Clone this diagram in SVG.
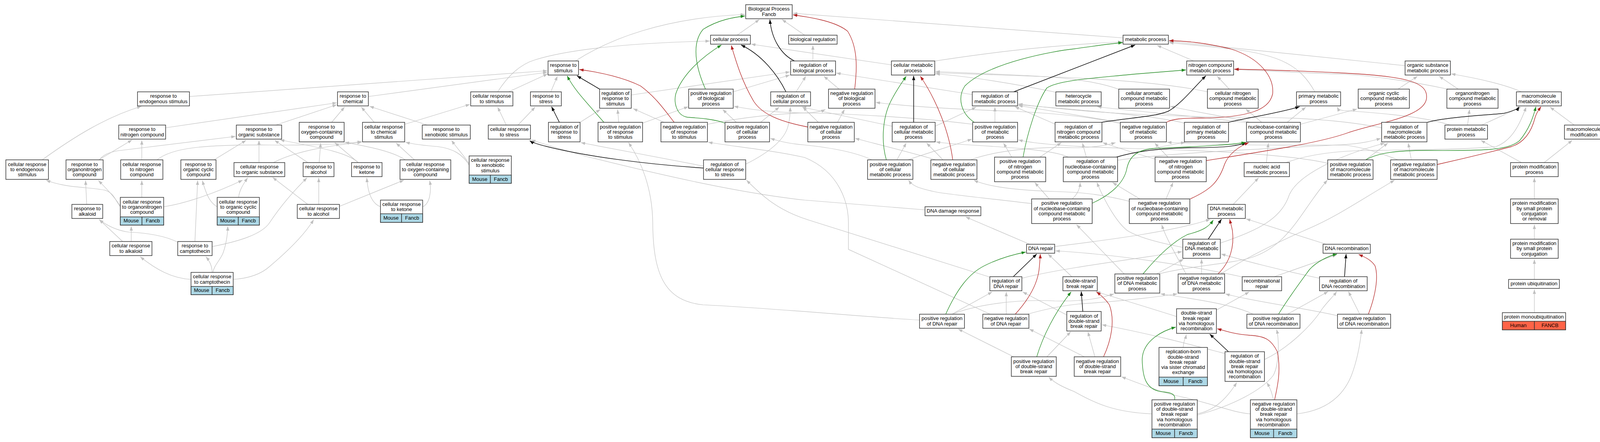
<svg xmlns="http://www.w3.org/2000/svg" width="4120" height="1131" viewBox="0 0 4120 1131">
<style>
.box{fill:#fff;stroke:#333;stroke-width:1.5}
.mo{fill:#add8e6;stroke:#333;stroke-width:1.5}
.hu{fill:#ff6347;stroke:#333;stroke-width:1.5}
text{font-family:"Liberation Sans",Arial,sans-serif;font-size:13px;text-anchor:middle;fill:#000}
.e path{fill:none;stroke:#c0c0c0;stroke-width:1.2;marker-end:url(#ag)}
.eb path{fill:none;stroke:#000;stroke-width:1.5;marker-end:url(#ab)}
.egr path{fill:none;stroke:#228b22;stroke-width:1.3;marker-end:url(#agr)}
.er path{fill:none;stroke:#b22222;stroke-width:1.3;marker-end:url(#ar)}
</style>
<defs>
<marker id="ag" viewBox="0 0 11 8" refX="11" refY="4" markerWidth="11" markerHeight="8" orient="auto" markerUnits="userSpaceOnUse"><path d="M0,0 L11,4 L0,8 z" fill="#c0c0c0"/></marker>
<marker id="ab" viewBox="0 0 11 8" refX="11" refY="4" markerWidth="11" markerHeight="8" orient="auto" markerUnits="userSpaceOnUse"><path d="M0,0 L11,4 L0,8 z" fill="#000"/></marker>
<marker id="agr" viewBox="0 0 11 8" refX="11" refY="4" markerWidth="11" markerHeight="8" orient="auto" markerUnits="userSpaceOnUse"><path d="M0,0 L11,4 L0,8 z" fill="#228b22"/></marker>
<marker id="ar" viewBox="0 0 11 8" refX="11" refY="4" markerWidth="11" markerHeight="8" orient="auto" markerUnits="userSpaceOnUse"><path d="M0,0 L11,4 L0,8 z" fill="#b22222"/></marker>
</defs>
<rect x="0" y="0" width="4120" height="1131" fill="#fff"/>
<g id="connectors">
<g class="e">
<path d="M1887,90 L1944,50"/>
<path d="M2060,90 L2002,50"/>
<path d="M2875,97 L2030,34"/>
<path d="M1473,156 C1560,100 1700,45 1907,37"/>
<path d="M1274,235 C1300,195 1330,165 1370,153 C1450,128 1600,110 1817,105"/>
<path d="M485,247 L1401,181"/>
<path d="M943,247 L1401,185"/>
<path d="M1302,235 L1402,189"/>
<path d="M1410,235 L1427,195"/>
<path d="M424,327 L862,263"/>
<path d="M706,320 L862,268"/>
<path d="M849,313 L882,274"/>
<path d="M958,313 L925,274"/>
<path d="M1094,320 L946,272"/>
<path d="M1036,318 L1203,267"/>
<path d="M1296,320 L1274,274"/>
<path d="M1326,320 L1370,274"/>
<path d="M108,409 C190,350 270,300 362,272"/>
<path d="M253,409 L338,358"/>
<path d="M254,409 C265,395 280,390 300,386 L603,349"/>
<path d="M363,409 L363,359"/>
<path d="M402,409 C440,378 520,370 690,371 C780,372 870,370 926,362"/>
<path d="M548,409 L630,359"/>
<path d="M663,416 L663,359"/>
<path d="M700,416 C760,385 850,372 926,364"/>
<path d="M817,416 L821,366"/>
<path d="M788,416 L703,359"/>
<path d="M917,416 L857,365"/>
<path d="M917,416 C890,390 820,378 717,358"/>
<path d="M1038,409 C1000,385 940,375 883,364"/>
<path d="M1061,409 L1014,366"/>
<path d="M1202,421 C1190,400 1170,380 1156,359"/>
<path d="M1201,423 C1185,395 1160,380 1120,375 C1080,372 1055,368 1038,364"/>
<path d="M308,527 C300,515 290,500 252,462"/>
<path d="M363,505 L363,462"/>
<path d="M419,529 C480,520 560,490 621,461"/>
<path d="M308,529 C296,515 293,495 270,487 C230,478 170,482 118,461"/>
<path d="M556,529 C540,520 530,505 518,462"/>
<path d="M611,505 C612,490 620,475 634,455"/>
<path d="M222,523 L219,462"/>
<path d="M816,523 L816,455"/>
<path d="M869,528 L1034,461"/>
<path d="M788,523 L698,454"/>
<path d="M974,529 C955,522 942,500 939,455"/>
<path d="M1082,529 C1100,522 1105,490 1100,462"/>
<path d="M314,618 L254,562"/>
<path d="M336,618 L336,579"/>
<path d="M454,619 C420,603 380,596 330,594 C300,590 275,578 254,562"/>
<path d="M499,618 L506,462"/>
<path d="M543,631 C610,618 670,600 690,570 C710,540 740,500 786,455"/>
<path d="M489,715 C440,712 400,690 359,657"/>
<path d="M543,697 C543,680 535,666 527,657"/>
<path d="M545,697 C548,680 560,670 570,650 C578,630 583,600 583,579"/>
<path d="M597,715 C640,712 670,700 690,682 C740,640 780,600 803,562"/>
<path d="M1616,243 L2022,184"/>
<path d="M1877,235 L2022,192"/>
<path d="M2038,235 L2063,195"/>
<path d="M2148,228 L2109,195"/>
<path d="M2081,156 L2081,116"/>
<path d="M2282,166 L1923,113"/>
<path d="M2394,156 C2500,140 2650,118 2873,107"/>
<path d="M2489,242 L2141,187"/>
<path d="M2284,323 L2053,274"/>
<path d="M2394,323 L2499,274"/>
<path d="M2547,313 L2547,274"/>
<path d="M2702,318 L2598,273"/>
<path d="M2868,313 L2607,270"/>
<path d="M3032,315 C2950,295 2800,285 2607,268"/>
<path d="M3537,327 C3400,300 3250,300 3150,300 C2900,295 2750,285 2607,266"/>
<path d="M2490,318 C2350,300 2150,290 2060,289 C1980,288 1920,280 1879,272"/>
<path d="M2868,316 C2800,300 2700,290 2600,285 C2450,280 2320,272 2242,262"/>
<path d="M1885,313 L1850,280"/>
<path d="M1645,315 L1762,273"/>
<path d="M2144,313 L2162,280"/>
<path d="M1811,318 C1900,300 2000,290 2060,289 C2090,288 2105,284 2113,280"/>
<path d="M1700,313 L1621,278"/>
<path d="M1584,313 L1581,280"/>
<path d="M1485,313 L1537,280"/>
<path d="M1801,425 C1700,405 1590,385 1487,365"/>
<path d="M1909,420 C1960,395 2010,360 2018,320 C2023,300 2023,285 2023,274"/>
<path d="M1947,313 L1995,274"/>
<path d="M2095,313 L2055,274"/>
<path d="M2296,409 L2320,366"/>
<path d="M2232,409 C2180,385 2100,375 2060,371 C2020,368 1990,360 1972,354"/>
<path d="M2324,409 C2380,390 2440,372 2488,356"/>
<path d="M2414,409 L2372,366"/>
<path d="M2396,409 C2330,390 2250,370 2189,354"/>
<path d="M2484,409 C2550,385 2650,375 2750,378 C2800,378 2830,372 2856,365"/>
<path d="M2590,402 L2569,366"/>
<path d="M2662,402 L2717,365"/>
<path d="M2957,407 C2900,390 2860,378 2823,365"/>
<path d="M2990,402 L2956,366"/>
<path d="M2781,402 L2771,366"/>
<path d="M2735,402 C2700,385 2600,378 2500,372 C2450,369 2420,367 2396,363"/>
<path d="M2855,402 C2920,385 2990,372 3034,364"/>
<path d="M2861,410 C3000,390 3300,378 3440,370 C3490,367 3515,360 3535,354"/>
<path d="M3496,409 L3553,366"/>
<path d="M3613,409 L3605,366"/>
<path d="M3400,418 C3300,395 3100,385 2900,380 C2750,376 2650,368 2607,358"/>
<path d="M3579,409 C3530,390 3480,375 3440,371 C3300,372 3100,372 2988,364"/>
<path d="M3793,320 L3894,274"/>
<path d="M3757,320 L3762,280"/>
<path d="M3713,320 C3650,300 3550,290 3440,283 C3430,282 3425,278 3423,274"/>
<path d="M4030,320 L3968,274"/>
<path d="M3895,416 L3791,359"/>
<path d="M3953,416 L4025,359"/>
<path d="M3928,509 L3928,455"/>
<path d="M3928,612 L3928,575"/>
<path d="M3928,715 L3928,664"/>
<path d="M3928,800 L3928,741"/>
<path d="M3292,416 C3350,395 3420,386 3500,385 C3650,383 3760,382 3830,375 C3870,360 3890,320 3907,274"/>
<path d="M3242,416 L3247,366"/>
<path d="M3192,314 C3050,295 2900,285 2809,273"/>
<path d="M3200,313 C3150,300 3050,285 2996,272"/>
<path d="M3230,313 L3189,279"/>
<path d="M3295,313 L3343,274"/>
<path d="M3329,318 L3474,279"/>
<path d="M2866,229 C2820,212 2750,198 2600,192 C2500,188 2430,185 2395,183"/>
<path d="M3091,235 C3000,215 2850,203 2700,197 C2550,192 2450,188 2395,186"/>
<path d="M2703,236 C2600,215 2480,195 2395,189"/>
<path d="M3147,228 L3116,195"/>
<path d="M3706,228 C3600,205 3500,193 3440,190 C3300,185 3220,180 3160,178"/>
<path d="M3579,228 L3629,195"/>
<path d="M3733,228 L3684,195"/>
<path d="M3895,235 C3850,215 3780,200 3715,189"/>
<path d="M3056,156 L2962,116"/>
<path d="M3366,235 C3330,170 3280,140 3150,125 C3080,118 3020,112 2993,109"/>
<path d="M3597,168 L2993,106"/>
<path d="M2368,537 C2250,528 2150,520 2060,512 C1900,495 1700,450 1500,400 C1430,380 1390,368 1360,358"/>
<path d="M2636,625 L2472,555"/>
<path d="M2700,631 C2800,618 3000,595 3098,561"/>
<path d="M3395,625 L3190,560"/>
<path d="M3157,523 L3222,455"/>
<path d="M2616,712 C2700,690 2850,670 3026,644"/>
<path d="M2534,709 L2070,563 C1990,538 1950,500 1911,461"/>
<path d="M2437,804 L2540,747"/>
<path d="M2576,804 L2576,747"/>
<path d="M2731,806 L2618,747"/>
<path d="M2354,819 C2200,810 2000,790 1800,780 C1700,770 1672,700 1671,570 C1670,480 1640,410 1609,365"/>
<path d="M2535,804 L2172,638 L2172,570 C2172,520 2150,440 2060,403 C1980,385 1880,375 1813,364"/>
<path d="M2437,804 C2500,780 2600,765 2700,770 C2780,772 2820,762 2852,752"/>
<path d="M2630,804 C2680,790 2720,782 2760,778 C2880,770 2960,760 3014,752"/>
<path d="M2744,708 L2683,650"/>
<path d="M3182,709 C3050,680 2850,650 2702,642"/>
<path d="M3262,708 L3422,652"/>
<path d="M3012,810 C2950,790 2850,760 2806,746"/>
<path d="M3113,794 L3198,747"/>
<path d="M3028,633 C2960,620 2910,605 2886,590 C2860,570 2830,520 2808,467"/>
<path d="M3124,622 C3220,590 3280,560 3300,500 C3320,450 3420,400 3545,366"/>
<path d="M2878,701 L2756,575"/>
<path d="M2961,701 L3030,663"/>
<path d="M2966,701 C3050,680 3150,675 3200,660 C3300,630 3330,540 3398,461"/>
<path d="M3036,701 C3010,650 2985,610 2974,575"/>
<path d="M3076,701 L3076,663"/>
<path d="M3125,701 C3190,660 3270,620 3350,585 C3420,555 3470,520 3570,461"/>
<path d="M3378,712 C3250,685 3180,665 3126,650"/>
<path d="M3296,804 L3400,746"/>
<path d="M3208,804 C3160,780 3060,765 2971,752"/>
<path d="M3481,804 L3452,746"/>
<path d="M3424,808 C3350,790 3200,770 3137,752"/>
<path d="M2680,913 L2741,849"/>
<path d="M2595,913 L2453,842"/>
<path d="M2803,913 L2785,849"/>
<path d="M2776,913 L2635,842"/>
<path d="M3137,905 C3060,885 2950,855 2821,831"/>
<path d="M3237,920 C3300,890 3360,830 3385,790 C3400,770 3412,760 3422,746"/>
<path d="M3029,889 C3030,870 3035,865 3037,856"/>
<path d="M3065,1059 C3110,1050 3140,1020 3166,979"/>
<path d="M2949,1059 C2850,1055 2800,1030 2750,1002 C2720,990 2700,980 2685,965"/>
<path d="M3065,1062 C3150,1040 3230,1000 3260,960 C3275,930 3275,870 3268,843"/>
<path d="M3260,1023 C3255,1000 3250,990 3243,979"/>
<path d="M3201,1059 C3150,1055 3100,1030 3000,1010 C2950,995 2900,975 2871,964"/>
<path d="M3320,1059 C3400,1050 3440,1010 3460,960 C3475,920 3482,880 3486,843"/>
<path d="M2641,521 C2550,510 2450,500 2400,492 C2350,482 2335,475 2326,461"/>
<path d="M2686,509 L2649,467"/>
<path d="M2745,509 C2760,495 2765,480 2765,467"/>
<path d="M2891,515 C2830,500 2780,492 2700,490 C2600,487 2530,478 2493,461"/>
<path d="M2918,509 L2848,467"/>
<path d="M2985,509 L3003,467"/>
</g>
<g class="eb">
<path d="M2034,156 C2000,140 1975,100 1971,50"/>
<path d="M1535,228 L1477,194"/>
<path d="M2012,235 C1990,190 1950,140 1897,115"/>
<path d="M1432,313 L1412,273"/>
<path d="M1801,430 C1650,420 1500,400 1400,375 C1380,370 1365,366 1356,360"/>
<path d="M2339,313 L2339,194"/>
<path d="M2595,235 L2906,115"/>
<path d="M2820,313 C2900,300 2950,300 2990,285 C3020,270 3060,220 3087,194"/>
<path d="M3145,313 C3200,300 3270,290 3327,273"/>
<path d="M3654,313 C3700,300 3800,295 3850,290 C3870,285 3885,280 3889,273"/>
<path d="M2858,402 C2900,390 2950,380 3050,378 C3150,378 3170,372 3190,365"/>
<path d="M3093,612 L3127,561"/>
<path d="M2594,708 L2654,650"/>
<path d="M2772,797 L2768,746"/>
<path d="M3145,900 L3097,855"/>
<path d="M3442,708 L3446,650"/>
</g>
<g class="egr">
<path d="M1806,228 C1780,170 1770,110 1800,75 C1840,50 1880,44 1907,41"/>
<path d="M1546,313 C1500,260 1470,230 1452,194"/>
<path d="M1856,315 C1830,305 1790,302 1760,300 C1730,295 1725,260 1730,240 C1745,195 1790,150 1847,115"/>
<path d="M2269,409 C2255,360 2260,300 2280,260 C2295,230 2310,210 2320,195"/>
<path d="M2494,313 C2460,290 2450,250 2470,220 C2530,160 2700,130 2750,125 C2800,118 2840,112 2874,109"/>
<path d="M2619,402 C2630,340 2655,260 2680,225 C2710,205 2800,200 2900,190 C3000,182 3020,180 3036,179"/>
<path d="M2796,520 C2840,500 2878,470 2885,430 C2892,400 2910,385 2950,380 C3050,375 3150,372 3189,364"/>
<path d="M3496,409 C3530,390 3580,385 3650,385 C3800,386 3860,385 3890,360 C3915,330 3925,300 3932,273"/>
<path d="M2421,804 C2450,740 2480,700 2520,680 C2560,660 2600,650 2626,645"/>
<path d="M2926,701 C2960,660 3000,620 3040,600 C3080,590 3095,580 3106,563"/>
<path d="M2654,913 C2670,860 2700,800 2742,747"/>
<path d="M3007,1023 C3010,1010 3000,1005 2980,1003 C2930,1000 2925,960 2924,920 C2925,870 2980,845 3010,837"/>
<path d="M3273,804 C3300,760 3330,720 3352,690 C3370,670 3400,655 3423,650"/>
</g>
<g class="er">
<path d="M2188,228 C2195,170 2195,120 2170,80 C2140,55 2080,45 2030,38"/>
<path d="M1726,313 C1700,280 1680,250 1640,220 C1600,200 1540,185 1483,178"/>
<path d="M2068,325 C1990,310 1950,290 1930,260 C1900,210 1885,160 1872,116"/>
<path d="M2439,409 C2430,340 2400,260 2356,195"/>
<path d="M2986,313 C3000,305 3020,302 3080,302 C3200,300 3250,280 3258,240 C3262,200 3230,150 3150,125 C3080,108 3030,105 2993,104"/>
<path d="M3088,411 C3250,385 3380,365 3450,340 C3520,315 3650,300 3652,250 C3655,210 3600,195 3440,187 C3300,180 3220,178 3160,177"/>
<path d="M3047,509 C3100,485 3120,465 3135,420 C3145,395 3170,375 3197,365"/>
<path d="M3679,421 C3750,405 3800,393 3870,375 C3900,365 3920,340 3930,300 C3935,285 3940,280 3945,273"/>
<path d="M2599,804 C2630,770 2655,730 2660,690 C2662,670 2663,660 2663,650"/>
<path d="M3118,701 C3150,670 3160,630 3155,590 C3152,575 3150,570 3148,561"/>
<path d="M2825,913 C2845,870 2855,820 2840,780 C2830,765 2818,755 2807,747"/>
<path d="M3263,1023 C3270,990 3280,950 3270,900 C3255,870 3240,860 3200,858 C3160,855 3140,848 3116,841"/>
<path d="M3503,804 C3520,760 3530,710 3520,680 C3510,665 3495,658 3478,651"/>
</g>
</g>
<g id="nodes">
<g id="n-bp"><rect class="box" x="1909" y="12" width="119" height="36"/><text><tspan x="1968.5" y="27.2">Biological Process</tspan><tspan x="1968.5" y="40.5">Fancb</tspan></text></g>
<g id="n-cp"><rect class="box" x="1819" y="90" width="102" height="23"/><text x="1870" y="105.3">cellular process</text></g>
<g id="n-br"><rect class="box" x="2019" y="90" width="124" height="23"/><text x="2081" y="105.3">biological regulation</text></g>
<g id="n-mp"><rect class="box" x="2875" y="90" width="116" height="23"/><text x="2933" y="105.3">metabolic process</text></g>
<g id="n-rs"><rect class="box" x="1403" y="156" width="78" height="36"/><text><tspan x="1442" y="171.2">response to</tspan><tspan x="1442" y="184.5">stimulus</tspan></text></g>
<g id="n-rbp"><rect class="box" x="2024" y="156" width="115" height="36"/><text><tspan x="2081.5" y="171.2">regulation of</tspan><tspan x="2081.5" y="184.5">biological process</tspan></text></g>
<g id="n-cmp"><rect class="box" x="2282" y="156" width="111" height="36"/><text><tspan x="2337.5" y="171.2">cellular metabolic</tspan><tspan x="2337.5" y="184.5">process</tspan></text></g>
<g id="n-ncmp"><rect class="box" x="3038" y="156" width="120" height="36"/><text><tspan x="3098" y="171.2">nitrogen compound</tspan><tspan x="3098" y="184.5">metabolic process</tspan></text></g>
<g id="n-osmp"><rect class="box" x="3597" y="156" width="116" height="36"/><text><tspan x="3655" y="171.2">organic substance</tspan><tspan x="3655" y="184.5">metabolic process</tspan></text></g>
<g id="n-res"><rect class="box" x="352" y="235" width="133" height="36"/><text><tspan x="418.5" y="250.2">response to</tspan><tspan x="418.5" y="263.5">endogenous stimulus</tspan></text></g>
<g id="n-rc"><rect class="box" x="864" y="235" width="79" height="36"/><text><tspan x="903.5" y="250.2">response to</tspan><tspan x="903.5" y="263.5">chemical</tspan></text></g>
<g id="n-crs"><rect class="box" x="1205" y="235" width="108" height="36"/><text><tspan x="1259" y="250.2">cellular response</tspan><tspan x="1259" y="263.5">to stimulus</tspan></text></g>
<g id="n-rst"><rect class="box" x="1358" y="235" width="79" height="36"/><text><tspan x="1397.5" y="250.2">response to</tspan><tspan x="1397.5" y="263.5">stress</tspan></text></g>
<g id="n-rrs"><rect class="box" x="1535" y="228" width="81" height="49"/><text><tspan x="1575.5" y="243">regulation of</tspan><tspan x="1575.5" y="256.3">response to</tspan><tspan x="1575.5" y="269.6">stimulus</tspan></text></g>
<g id="n-prbp"><rect class="box" x="1763" y="228" width="114" height="49"/><text><tspan x="1820" y="243">positive regulation</tspan><tspan x="1820" y="256.3">of biological</tspan><tspan x="1820" y="269.6">process</tspan></text></g>
<g id="n-rcp"><rect class="box" x="1973" y="235" width="102" height="36"/><text><tspan x="2024" y="250.2">regulation of</tspan><tspan x="2024" y="263.5">cellular process</tspan></text></g>
<g id="n-nrbp"><rect class="box" x="2121" y="228" width="119" height="49"/><text><tspan x="2180.5" y="243">negative regulation</tspan><tspan x="2180.5" y="256.3">of biological</tspan><tspan x="2180.5" y="269.6">process</tspan></text></g>
<g id="n-rmp"><rect class="box" x="2489" y="235" width="116" height="36"/><text><tspan x="2547" y="250.2">regulation of</tspan><tspan x="2547" y="263.5">metabolic process</tspan></text></g>
<g id="n-hmp"><rect class="box" x="2703" y="235" width="116" height="36"/><text><tspan x="2761" y="250.2">heterocycle</tspan><tspan x="2761" y="263.5">metabolic process</tspan></text></g>
<g id="n-cacmp"><rect class="box" x="2864" y="228" width="130" height="49"/><text><tspan x="2929" y="243">cellular aromatic</tspan><tspan x="2929" y="256.3">compound metabolic</tspan><tspan x="2929" y="269.6">process</tspan></text></g>
<g id="n-cncmp"><rect class="box" x="3091" y="228" width="130" height="49"/><text><tspan x="3156" y="243">cellular nitrogen</tspan><tspan x="3156" y="256.3">compound metabolic</tspan><tspan x="3156" y="269.6">process</tspan></text></g>
<g id="n-pmp"><rect class="box" x="3319" y="235" width="113" height="36"/><text><tspan x="3375.5" y="250.2">primary metabolic</tspan><tspan x="3375.5" y="263.5">process</tspan></text></g>
<g id="n-occmp"><rect class="box" x="3477" y="228" width="131" height="49"/><text><tspan x="3542.5" y="243">organic cyclic</tspan><tspan x="3542.5" y="256.3">compound metabolic</tspan><tspan x="3542.5" y="269.6">process</tspan></text></g>
<g id="n-oncmp"><rect class="box" x="3704" y="228" width="131" height="49"/><text><tspan x="3769.5" y="243">organonitrogen</tspan><tspan x="3769.5" y="256.3">compound metabolic</tspan><tspan x="3769.5" y="269.6">process</tspan></text></g>
<g id="n-mmp"><rect class="box" x="3882" y="235" width="115" height="36"/><text><tspan x="3939.5" y="250.2">macromolecule</tspan><tspan x="3939.5" y="263.5">metabolic process</tspan></text></g>
<g id="n-rnc"><rect class="box" x="304" y="320" width="120" height="36"/><text><tspan x="364" y="335.2">response to</tspan><tspan x="364" y="348.5">nitrogen compound</tspan></text></g>
<g id="n-ros"><rect class="box" x="605" y="320" width="116" height="36"/><text><tspan x="663" y="335.2">response to</tspan><tspan x="663" y="348.5">organic substance</tspan></text></g>
<g id="n-roc"><rect class="box" x="766" y="313" width="115" height="50"/><text><tspan x="823.5" y="328.5">response to</tspan><tspan x="823.5" y="341.8">oxygen-containing</tspan><tspan x="823.5" y="355.1">compound</tspan></text></g>
<g id="n-crcs"><rect class="box" x="928" y="313" width="108" height="50"/><text><tspan x="982" y="328.5">cellular response</tspan><tspan x="982" y="341.8">to chemical</tspan><tspan x="982" y="355.1">stimulus</tspan></text></g>
<g id="n-rxs"><rect class="box" x="1081" y="320" width="123" height="36"/><text><tspan x="1142.5" y="335.2">response to</tspan><tspan x="1142.5" y="348.5">xenobiotic stimulus</tspan></text></g>
<g id="n-crst"><rect class="box" x="1250" y="320" width="108" height="36"/><text><tspan x="1304" y="335.2">cellular response</tspan><tspan x="1304" y="348.5">to stress</tspan></text></g>
<g id="n-rrst"><rect class="box" x="1404" y="313" width="81" height="50"/><text><tspan x="1444.5" y="328.5">regulation of</tspan><tspan x="1444.5" y="341.8">response to</tspan><tspan x="1444.5" y="355.1">stress</tspan></text></g>
<g id="n-prrs"><rect class="box" x="1531" y="313" width="114" height="50"/><text><tspan x="1588" y="328.5">positive regulation</tspan><tspan x="1588" y="341.8">of response</tspan><tspan x="1588" y="355.1">to stimulus</tspan></text></g>
<g id="n-nrrs"><rect class="box" x="1692" y="313" width="119" height="50"/><text><tspan x="1751.5" y="328.5">negative regulation</tspan><tspan x="1751.5" y="341.8">of response</tspan><tspan x="1751.5" y="355.1">to stimulus</tspan></text></g>
<g id="n-prcp"><rect class="box" x="1856" y="313" width="114" height="50"/><text><tspan x="1913" y="328.5">positive regulation</tspan><tspan x="1913" y="341.8">of cellular</tspan><tspan x="1913" y="355.1">process</tspan></text></g>
<g id="n-nrcp"><rect class="box" x="2068" y="313" width="119" height="50"/><text><tspan x="2127.5" y="328.5">negative regulation</tspan><tspan x="2127.5" y="341.8">of cellular</tspan><tspan x="2127.5" y="355.1">process</tspan></text></g>
<g id="n-rcmp"><rect class="box" x="2284" y="313" width="110" height="50"/><text><tspan x="2339" y="328.5">regulation of</tspan><tspan x="2339" y="341.8">cellular metabolic</tspan><tspan x="2339" y="355.1">process</tspan></text></g>
<g id="n-prmp"><rect class="box" x="2490" y="313" width="115" height="50"/><text><tspan x="2547.5" y="328.5">positive regulation</tspan><tspan x="2547.5" y="341.8">of metabolic</tspan><tspan x="2547.5" y="355.1">process</tspan></text></g>
<g id="n-rncmp"><rect class="box" x="2701" y="313" width="120" height="50"/><text><tspan x="2761" y="328.5">regulation of</tspan><tspan x="2761" y="341.8">nitrogen compound</tspan><tspan x="2761" y="355.1">metabolic process</tspan></text></g>
<g id="n-nrmp"><rect class="box" x="2868" y="313" width="118" height="50"/><text><tspan x="2927" y="328.5">negative regulation</tspan><tspan x="2927" y="341.8">of metabolic</tspan><tspan x="2927" y="355.1">process</tspan></text></g>
<g id="n-rpmp"><rect class="box" x="3032" y="313" width="113" height="50"/><text><tspan x="3088.5" y="328.5">regulation of</tspan><tspan x="3088.5" y="341.8">primary metabolic</tspan><tspan x="3088.5" y="355.1">process</tspan></text></g>
<g id="n-nbcmp"><rect class="box" x="3191" y="313" width="138" height="50"/><text><tspan x="3260" y="328.5">nucleobase-containing</tspan><tspan x="3260" y="341.8">compound metabolic</tspan><tspan x="3260" y="355.1">process</tspan></text></g>
<g id="n-rmmp"><rect class="box" x="3537" y="313" width="116" height="50"/><text><tspan x="3595" y="328.5">regulation of</tspan><tspan x="3595" y="341.8">macromolecule</tspan><tspan x="3595" y="355.1">metabolic process</tspan></text></g>
<g id="n-prmp2"><rect class="box" x="3699" y="320" width="109" height="36"/><text><tspan x="3753.5" y="335.2">protein metabolic</tspan><tspan x="3753.5" y="348.5">process</tspan></text></g>
<g id="n-mm"><rect class="box" x="4005" y="320" width="99" height="36"/><text><tspan x="4054.5" y="335.2">macromolecule</tspan><tspan x="4054.5" y="348.5">modification</tspan></text></g>
<g id="n-cres"><rect class="box" x="15" y="409" width="109" height="50"/><text><tspan x="69.5" y="424.5">cellular response</tspan><tspan x="69.5" y="437.8">to endogenous</tspan><tspan x="69.5" y="451.1">stimulus</tspan></text></g>
<g id="n-ronc"><rect class="box" x="169" y="409" width="95" height="50"/><text><tspan x="216.5" y="424.5">response to</tspan><tspan x="216.5" y="437.8">organonitrogen</tspan><tspan x="216.5" y="451.1">compound</tspan></text></g>
<g id="n-crnc"><rect class="box" x="309" y="409" width="108" height="50"/><text><tspan x="363" y="424.5">cellular response</tspan><tspan x="363" y="437.8">to nitrogen</tspan><tspan x="363" y="451.1">compound</tspan></text></g>
<g id="n-rocc"><rect class="box" x="463" y="409" width="90" height="50"/><text><tspan x="508" y="424.5">response to</tspan><tspan x="508" y="437.8">organic cyclic</tspan><tspan x="508" y="451.1">compound</tspan></text></g>
<g id="n-cros"><rect class="box" x="599" y="416" width="130" height="36"/><text><tspan x="664" y="431.2">cellular response</tspan><tspan x="664" y="444.5">to organic substance</tspan></text></g>
<g id="n-ralc"><rect class="box" x="776" y="416" width="79" height="36"/><text><tspan x="815.5" y="431.2">response to</tspan><tspan x="815.5" y="444.5">alcohol</tspan></text></g>
<g id="n-rk"><rect class="box" x="900" y="416" width="78" height="36"/><text><tspan x="939" y="431.2">response to</tspan><tspan x="939" y="444.5">ketone</tspan></text></g>
<g id="n-croc"><rect class="box" x="1024" y="409" width="130" height="50"/><text><tspan x="1089" y="424.5">cellular response</tspan><tspan x="1089" y="437.8">to oxygen-containing</tspan><tspan x="1089" y="451.1">compound</tspan></text></g>
<g id="n-crxs"><rect class="box" x="1201" y="399" width="108" height="70"/><rect class="mo" x="1201" y="448" width="54.5" height="21"/><rect class="mo" x="1255.5" y="448" width="53.5" height="21"/><text><tspan x="1255" y="414">cellular response</tspan><tspan x="1255" y="427.3">to xenobiotic</tspan><tspan x="1255" y="440.6">stimulus</tspan></text><text x="1228.3" y="462.5">Mouse</text><text x="1282.3" y="462.5">Fancb</text></g>
<g id="n-rcrs"><rect class="box" x="1801" y="409" width="108" height="50"/><text><tspan x="1855" y="424.5">regulation of</tspan><tspan x="1855" y="437.8">cellular response</tspan><tspan x="1855" y="451.1">to stress</tspan></text></g>
<g id="n-prcmp"><rect class="box" x="2221" y="409" width="116" height="50"/><text><tspan x="2279" y="424.5">positive regulation</tspan><tspan x="2279" y="437.8">of cellular</tspan><tspan x="2279" y="451.1">metabolic process</tspan></text></g>
<g id="n-nrcmp"><rect class="box" x="2383" y="409" width="118" height="50"/><text><tspan x="2442" y="424.5">negative regulation</tspan><tspan x="2442" y="437.8">of cellular</tspan><tspan x="2442" y="451.1">metabolic process</tspan></text></g>
<g id="n-prncmp"><rect class="box" x="2546" y="402" width="131" height="63"/><text><tspan x="2611.5" y="417.4">positive regulation</tspan><tspan x="2611.5" y="430.7">of nitrogen</tspan><tspan x="2611.5" y="444">compound metabolic</tspan><tspan x="2611.5" y="457.3">process</tspan></text></g>
<g id="n-rnbcmp"><rect class="box" x="2722" y="402" width="139" height="63"/><text><tspan x="2791.5" y="417.4">regulation of</tspan><tspan x="2791.5" y="430.7">nucleobase-containing</tspan><tspan x="2791.5" y="444">compound metabolic</tspan><tspan x="2791.5" y="457.3">process</tspan></text></g>
<g id="n-nrncmp"><rect class="box" x="2957" y="402" width="131" height="63"/><text><tspan x="3022.5" y="417.4">negative regulation</tspan><tspan x="3022.5" y="430.7">of nitrogen</tspan><tspan x="3022.5" y="444">compound metabolic</tspan><tspan x="3022.5" y="457.3">process</tspan></text></g>
<g id="n-namp"><rect class="box" x="3185" y="416" width="116" height="36"/><text><tspan x="3243" y="431.2">nucleic acid</tspan><tspan x="3243" y="444.5">metabolic process</tspan></text></g>
<g id="n-prmmp"><rect class="box" x="3399" y="409" width="116" height="50"/><text><tspan x="3457" y="424.5">positive regulation</tspan><tspan x="3457" y="437.8">of macromolecule</tspan><tspan x="3457" y="451.1">metabolic process</tspan></text></g>
<g id="n-nrmmp"><rect class="box" x="3560" y="409" width="119" height="50"/><text><tspan x="3619.5" y="424.5">negative regulation</tspan><tspan x="3619.5" y="437.8">of macromolecule</tspan><tspan x="3619.5" y="451.1">metabolic process</tspan></text></g>
<g id="n-pmodp"><rect class="box" x="3867" y="416" width="122" height="36"/><text><tspan x="3928" y="431.2">protein modification</tspan><tspan x="3928" y="444.5">process</tspan></text></g>
<g id="n-ralk"><rect class="box" x="184" y="523" width="79" height="36"/><text><tspan x="223.5" y="538.2">response to</tspan><tspan x="223.5" y="551.5">alkaloid</tspan></text></g>
<g id="n-cronc"><rect class="box" x="308" y="505" width="111" height="71"/><rect class="mo" x="308" y="555" width="55.5" height="21"/><rect class="mo" x="363.5" y="555" width="55.5" height="21"/><text><tspan x="363.5" y="520.5">cellular response</tspan><tspan x="363.5" y="533.8">to organonitrogen</tspan><tspan x="363.5" y="547.1">compound</tspan></text><text x="335.8" y="569.3">Mouse</text><text x="391.3" y="569.3">Fancb</text></g>
<g id="n-crocc"><rect class="box" x="556" y="505" width="108" height="71"/><rect class="mo" x="556" y="555" width="54" height="21"/><rect class="mo" x="610" y="555" width="54" height="21"/><text><tspan x="610" y="520.5">cellular response</tspan><tspan x="610" y="533.8">to organic cyclic</tspan><tspan x="610" y="547.1">compound</tspan></text><text x="583" y="569.3">Mouse</text><text x="637" y="569.3">Fancb</text></g>
<g id="n-cralc"><rect class="box" x="761" y="523" width="108" height="36"/><text><tspan x="815" y="538.2">cellular response</tspan><tspan x="815" y="551.5">to alcohol</tspan></text></g>
<g id="n-crk"><rect class="box" x="974" y="512" width="108" height="57"/><rect class="mo" x="974" y="547" width="54" height="22"/><rect class="mo" x="1028" y="547" width="54" height="22"/><text><tspan x="1028" y="526.7">cellular response</tspan><tspan x="1028" y="540">to ketone</tspan></text><text x="1001" y="562">Mouse</text><text x="1055" y="562">Fancb</text></g>
<g id="n-prnbcmp"><rect class="box" x="2641" y="509" width="155" height="63"/><text><tspan x="2718.5" y="524.4">positive regulation</tspan><tspan x="2718.5" y="537.7">of nucleobase-containing</tspan><tspan x="2718.5" y="551">compound metabolic</tspan><tspan x="2718.5" y="564.3">process</tspan></text></g>
<g id="n-nrnbcmp"><rect class="box" x="2891" y="509" width="155" height="63"/><text><tspan x="2968.5" y="524.4">negative regulation</tspan><tspan x="2968.5" y="537.7">of nucleobase-containing</tspan><tspan x="2968.5" y="551">compound metabolic</tspan><tspan x="2968.5" y="564.3">process</tspan></text></g>
<g id="n-dnadr"><rect class="box" x="2368" y="529" width="143" height="23"/><text x="2439.5" y="544.3">DNA damage response</text></g>
<g id="n-dnamp"><rect class="box" x="3092" y="523" width="96" height="36"/><text><tspan x="3140" y="538.2">DNA metabolic</tspan><tspan x="3140" y="551.5">process</tspan></text></g>
<g id="n-pmspcr"><rect class="box" x="3867" y="509" width="122" height="63"/><text><tspan x="3928" y="524.4">protein modification</tspan><tspan x="3928" y="537.7">by small protein</tspan><tspan x="3928" y="551">conjugation</tspan><tspan x="3928" y="564.3">or removal</tspan></text></g>
<g id="n-cralk"><rect class="box" x="281" y="618" width="108" height="36"/><text><tspan x="335" y="633.2">cellular response</tspan><tspan x="335" y="646.5">to alkaloid</tspan></text></g>
<g id="n-rcam"><rect class="box" x="455" y="618" width="88" height="36"/><text><tspan x="499" y="633.2">response to</tspan><tspan x="499" y="646.5">camptothecin</tspan></text></g>
<g id="n-crcam"><rect class="box" x="489" y="697" width="108" height="57"/><rect class="mo" x="489" y="733" width="54" height="21"/><rect class="mo" x="543" y="733" width="54" height="21"/><text><tspan x="543" y="712.2">cellular response</tspan><tspan x="543" y="725.5">to camptothecin</tspan></text><text x="516" y="747.3">Mouse</text><text x="570" y="747.3">Fancb</text></g>
<g id="n-dnar"><rect class="box" x="2628" y="625" width="72" height="23"/><text x="2664" y="640.3">DNA repair</text></g>
<g id="n-rdnamp"><rect class="box" x="3028" y="612" width="96" height="49"/><text><tspan x="3076" y="627">regulation of</tspan><tspan x="3076" y="640.3">DNA metabolic</tspan><tspan x="3076" y="653.6">process</tspan></text></g>
<g id="n-dnarec"><rect class="box" x="3387" y="625" width="121" height="23"/><text x="3447.5" y="640.3">DNA recombination</text></g>
<g id="n-pmspc"><rect class="box" x="3867" y="612" width="122" height="49"/><text><tspan x="3928" y="627">protein modification</tspan><tspan x="3928" y="640.3">by small protein</tspan><tspan x="3928" y="653.6">conjugation</tspan></text></g>
<g id="n-rdnar"><rect class="box" x="2534" y="708" width="82" height="36"/><text><tspan x="2575" y="723.2">regulation of</tspan><tspan x="2575" y="736.5">DNA repair</tspan></text></g>
<g id="n-dsbr"><rect class="box" x="2721" y="708" width="88" height="36"/><text><tspan x="2765" y="723.2">double-strand</tspan><tspan x="2765" y="736.5">break repair</tspan></text></g>
<g id="n-prdnamp"><rect class="box" x="2854" y="701" width="115" height="49"/><text><tspan x="2911.5" y="716">positive regulation</tspan><tspan x="2911.5" y="729.3">of DNA metabolic</tspan><tspan x="2911.5" y="742.6">process</tspan></text></g>
<g id="n-nrdnamp"><rect class="box" x="3016" y="701" width="119" height="49"/><text><tspan x="3075.5" y="716">negative regulation</tspan><tspan x="3075.5" y="729.3">of DNA metabolic</tspan><tspan x="3075.5" y="742.6">process</tspan></text></g>
<g id="n-recr"><rect class="box" x="3180" y="708" width="101" height="36"/><text><tspan x="3230.5" y="723.2">recombinational</tspan><tspan x="3230.5" y="736.5">repair</tspan></text></g>
<g id="n-rdnarec"><rect class="box" x="3378" y="708" width="122" height="36"/><text><tspan x="3439" y="723.2">regulation of</tspan><tspan x="3439" y="736.5">DNA recombination</tspan></text></g>
<g id="n-pu"><rect class="box" x="3862" y="715" width="130" height="23"/><text x="3927" y="730.3">protein ubiquitination</text></g>
<g id="n-dsbrhr"><rect class="box" x="3012" y="790" width="102" height="63"/><text><tspan x="3063" y="805.4">double-strand</tspan><tspan x="3063" y="818.7">break repair</tspan><tspan x="3063" y="832">via homologous</tspan><tspan x="3063" y="845.3">recombination</tspan></text></g>
<g id="n-prdnar"><rect class="box" x="2354" y="804" width="115" height="36"/><text><tspan x="2411.5" y="819.2">positive regulation</tspan><tspan x="2411.5" y="832.5">of DNA repair</tspan></text></g>
<g id="n-nrdnar"><rect class="box" x="2516" y="804" width="118" height="36"/><text><tspan x="2575" y="819.2">negative regulation</tspan><tspan x="2575" y="832.5">of DNA repair</tspan></text></g>
<g id="n-rdsbr"><rect class="box" x="2731" y="797" width="88" height="50"/><text><tspan x="2775" y="812.5">regulation of</tspan><tspan x="2775" y="825.8">double-strand</tspan><tspan x="2775" y="839.1">break repair</tspan></text></g>
<g id="n-prdnarec"><rect class="box" x="3192" y="804" width="136" height="36"/><text><tspan x="3260" y="819.2">positive regulation</tspan><tspan x="3260" y="832.5">of DNA recombination</tspan></text></g>
<g id="n-nrdnarec"><rect class="box" x="3424" y="804" width="136" height="36"/><text><tspan x="3492" y="819.2">negative regulation</tspan><tspan x="3492" y="832.5">of DNA recombination</tspan></text></g>
<g id="n-pmu"><rect class="box" x="3846" y="800" width="162" height="44"/><rect class="hu" x="3846" y="822" width="82" height="22"/><rect class="hu" x="3928" y="822" width="80" height="22"/><text x="3927" y="814.8">protein monoubiquitination</text><text x="3887" y="836.8">Human</text><text x="3968" y="836.8">FANCB</text></g>
<g id="n-rbdsbr"><rect class="box" x="2967" y="889" width="124" height="98"/><rect class="mo" x="2967" y="965" width="62" height="22"/><rect class="mo" x="3029" y="965" width="62" height="22"/><text><tspan x="3029" y="904.2">replication-born</tspan><tspan x="3029" y="917.5">double-strand</tspan><tspan x="3029" y="930.8">break repair</tspan><tspan x="3029" y="944.1">via sister chromatid</tspan><tspan x="3029" y="957.4">exchange</tspan></text><text x="2998" y="979.8">Mouse</text><text x="3060" y="979.8">Fancb</text></g>
<g id="n-prdsbr"><rect class="box" x="2589" y="913" width="115" height="50"/><text><tspan x="2646.5" y="928.5">positive regulation</tspan><tspan x="2646.5" y="941.8">of double-strand</tspan><tspan x="2646.5" y="955.1">break repair</tspan></text></g>
<g id="n-nrdsbr"><rect class="box" x="2750" y="913" width="119" height="50"/><text><tspan x="2809.5" y="928.5">negative regulation</tspan><tspan x="2809.5" y="941.8">of double-strand</tspan><tspan x="2809.5" y="955.1">break repair</tspan></text></g>
<g id="n-rdsbrhr"><rect class="box" x="3136" y="900" width="101" height="76"/><text><tspan x="3186.5" y="915.2">regulation of</tspan><tspan x="3186.5" y="928.5">double-strand</tspan><tspan x="3186.5" y="941.8">break repair</tspan><tspan x="3186.5" y="955.1">via homologous</tspan><tspan x="3186.5" y="968.4">recombination</tspan></text></g>
<g id="n-prdsbrhr"><rect class="box" x="2949" y="1023" width="116" height="97"/><rect class="mo" x="2949" y="1098" width="58" height="22"/><rect class="mo" x="3007" y="1098" width="58" height="22"/><text><tspan x="3007" y="1037.7">positive regulation</tspan><tspan x="3007" y="1051">of double-strand</tspan><tspan x="3007" y="1064.3">break repair</tspan><tspan x="3007" y="1077.6">via homologous</tspan><tspan x="3007" y="1090.9">recombination</tspan></text><text x="2978" y="1112.8">Mouse</text><text x="3036" y="1112.8">Fancb</text></g>
<g id="n-nrdsbrhr"><rect class="box" x="3201" y="1023" width="119" height="97"/><rect class="mo" x="3201" y="1098" width="59.5" height="22"/><rect class="mo" x="3260.5" y="1098" width="59.5" height="22"/><text><tspan x="3260.5" y="1037.7">negative regulation</tspan><tspan x="3260.5" y="1051">of double-strand</tspan><tspan x="3260.5" y="1064.3">break repair</tspan><tspan x="3260.5" y="1077.6">via homologous</tspan><tspan x="3260.5" y="1090.9">recombination</tspan></text><text x="3230.8" y="1112.8">Mouse</text><text x="3290.3" y="1112.8">Fancb</text></g>
</g>
</svg>
